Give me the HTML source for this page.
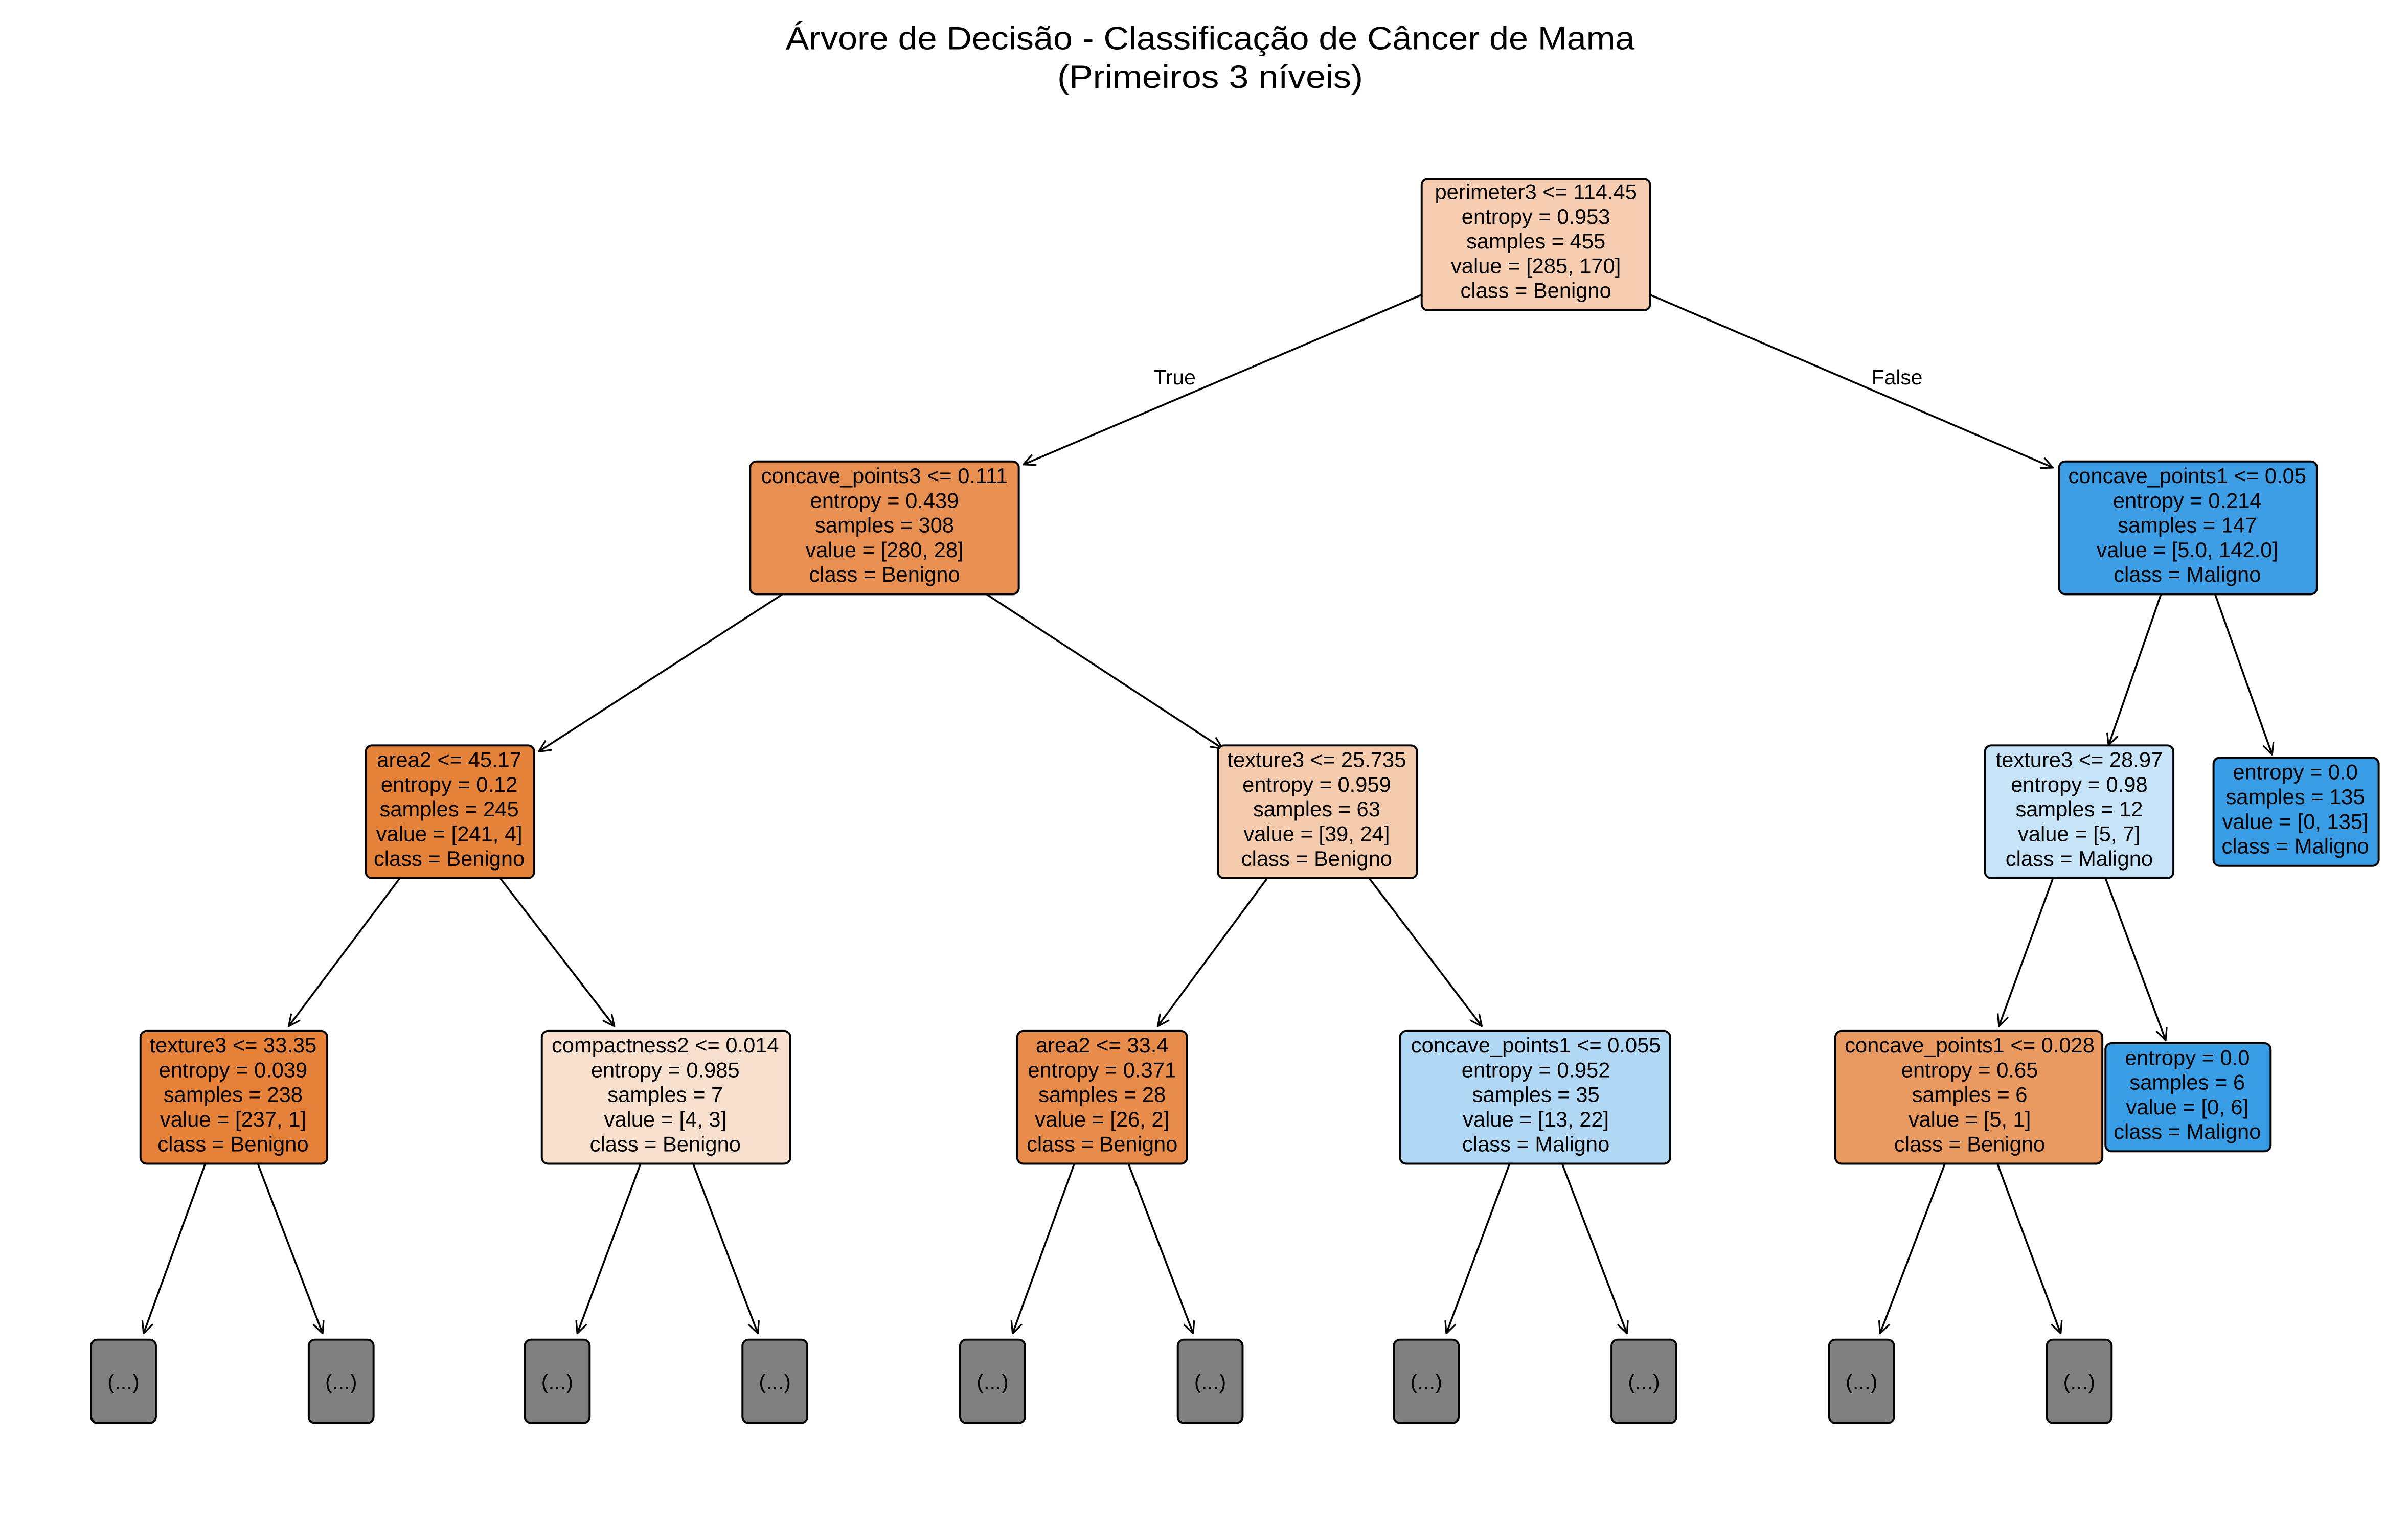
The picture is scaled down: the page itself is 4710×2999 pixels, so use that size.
<!DOCTYPE html>
<html><head><meta charset="utf-8"><style>html,body{margin:0;padding:0;background:#fff}svg{display:block}</style></head>
<body>
<svg xmlns="http://www.w3.org/2000/svg" width="4710" height="2999" viewBox="0 0 1560 993.3" font-family="Liberation Sans, DejaVu Sans, sans-serif">
<defs>
<marker id="a" viewBox="0 0 10 10" refX="9.5" refY="5" markerWidth="9" markerHeight="9" markerUnits="userSpaceOnUse" orient="auto">
<path d="M1,1 L9.5,5 L1,9" fill="none" stroke="#000" stroke-width="1.2"/>
</marker>
</defs>
<rect width="1560" height="993.3" fill="#fff"/>
<text x="784" y="32" font-size="21" text-anchor="middle" textLength="550" lengthAdjust="spacingAndGlyphs">Árvore de Decisão - Classificação de Câncer de Mama</text>
<text x="784" y="57" font-size="21" text-anchor="middle" textLength="198" lengthAdjust="spacingAndGlyphs">(Primeiros 3 níveis)</text>

<g stroke="#000" stroke-width="1.2" fill="none" marker-end="url(#a)">
<line x1="921" y1="191" x2="663" y2="301"/>
<line x1="1069" y1="191" x2="1330" y2="303"/>
<line x1="507" y1="385" x2="349" y2="487"/>
<line x1="639" y1="385" x2="792" y2="485"/>
<line x1="1400" y1="385" x2="1366" y2="483"/>
<line x1="1435" y1="385" x2="1472" y2="489"/>
<line x1="259" y1="569" x2="187" y2="665"/>
<line x1="324" y1="569" x2="398" y2="665"/>
<line x1="821" y1="569" x2="750" y2="665"/>
<line x1="887" y1="569" x2="960" y2="665"/>
<line x1="1330" y1="569" x2="1295" y2="665"/>
<line x1="1364" y1="569" x2="1403" y2="674"/>
<line x1="133" y1="754" x2="93" y2="864"/>
<line x1="167" y1="754" x2="209" y2="864"/>
<line x1="415" y1="754" x2="374" y2="864"/>
<line x1="449" y1="754" x2="491" y2="864"/>
<line x1="696" y1="754" x2="656" y2="864"/>
<line x1="731" y1="754" x2="773" y2="864"/>
<line x1="978" y1="754" x2="937" y2="864"/>
<line x1="1012" y1="754" x2="1054" y2="864"/>
<line x1="1260" y1="754" x2="1218" y2="864"/>
<line x1="1294" y1="754" x2="1335" y2="864"/>
</g>
<text x="761" y="249" font-size="13.5" text-anchor="middle">True</text>
<text x="1229" y="249" font-size="13.5" text-anchor="middle">False</text>

<g stroke="#000" stroke-width="1.3">
<rect x="921" y="116" width="148" height="85" rx="4" fill="#f6cdb0"/>
<rect x="486" y="299" width="174" height="86" rx="4" fill="#e89051"/>
<rect x="1334" y="299" width="167" height="86" rx="4" fill="#3d9ee5"/>
<rect x="237" y="483" width="109" height="86" rx="4" fill="#e5823a"/>
<rect x="789" y="483" width="129" height="86" rx="4" fill="#f4cbad"/>
<rect x="1286" y="483" width="122" height="86" rx="4" fill="#c6e3f7"/>
<rect x="1434" y="491" width="107" height="70" rx="4" fill="#399de5"/>
<rect x="91" y="668" width="121" height="86" rx="4" fill="#e58139"/>
<rect x="351" y="668" width="161" height="86" rx="4" fill="#f8e0ce"/>
<rect x="659" y="668" width="110" height="86" rx="4" fill="#e78c4a"/>
<rect x="907" y="668" width="175" height="86" rx="4" fill="#b0d8f5"/>
<rect x="1189" y="668" width="173" height="86" rx="4" fill="#e99a61"/>
<rect x="1364" y="676" width="107" height="70" rx="4" fill="#399de5"/>
<g fill="#808080">
<rect x="59" y="868" width="42" height="54" rx="4"/>
<rect x="200" y="868" width="42" height="54" rx="4"/>
<rect x="340" y="868" width="42" height="54" rx="4"/>
<rect x="481" y="868" width="42" height="54" rx="4"/>
<rect x="622" y="868" width="42" height="54" rx="4"/>
<rect x="763" y="868" width="42" height="54" rx="4"/>
<rect x="903" y="868" width="42" height="54" rx="4"/>
<rect x="1044" y="868" width="42" height="54" rx="4"/>
<rect x="1185" y="868" width="42" height="54" rx="4"/>
<rect x="1326" y="868" width="42" height="54" rx="4"/>
</g>
</g>

<g font-size="13.8" text-anchor="middle" fill="#000">
<text x="995" y="129">perimeter3 &lt;= 114.45<tspan x="995" dy="16">entropy = 0.953</tspan><tspan x="995" dy="16">samples = 455</tspan><tspan x="995" dy="16">value = [285, 170]</tspan><tspan x="995" dy="16">class = Benigno</tspan></text>
<text x="573" y="313">concave_points3 &lt;= 0.111<tspan x="573" dy="16">entropy = 0.439</tspan><tspan x="573" dy="16">samples = 308</tspan><tspan x="573" dy="16">value = [280, 28]</tspan><tspan x="573" dy="16">class = Benigno</tspan></text>
<text x="1417" y="313">concave_points1 &lt;= 0.05<tspan x="1417" dy="16">entropy = 0.214</tspan><tspan x="1417" dy="16">samples = 147</tspan><tspan x="1417" dy="16">value = [5.0, 142.0]</tspan><tspan x="1417" dy="16">class = Maligno</tspan></text>
<text x="291" y="497">area2 &lt;= 45.17<tspan x="291" dy="16">entropy = 0.12</tspan><tspan x="291" dy="16">samples = 245</tspan><tspan x="291" dy="16">value = [241, 4]</tspan><tspan x="291" dy="16">class = Benigno</tspan></text>
<text x="853" y="497">texture3 &lt;= 25.735<tspan x="853" dy="16">entropy = 0.959</tspan><tspan x="853" dy="16">samples = 63</tspan><tspan x="853" dy="16">value = [39, 24]</tspan><tspan x="853" dy="16">class = Benigno</tspan></text>
<text x="1347" y="497">texture3 &lt;= 28.97<tspan x="1347" dy="16">entropy = 0.98</tspan><tspan x="1347" dy="16">samples = 12</tspan><tspan x="1347" dy="16">value = [5, 7]</tspan><tspan x="1347" dy="16">class = Maligno</tspan></text>
<text x="1487" y="505">entropy = 0.0<tspan x="1487" dy="16">samples = 135</tspan><tspan x="1487" dy="16">value = [0, 135]</tspan><tspan x="1487" dy="16">class = Maligno</tspan></text>
<text x="151" y="682">texture3 &lt;= 33.35<tspan x="151" dy="16">entropy = 0.039</tspan><tspan x="151" dy="16">samples = 238</tspan><tspan x="151" dy="16">value = [237, 1]</tspan><tspan x="151" dy="16">class = Benigno</tspan></text>
<text x="431" y="682">compactness2 &lt;= 0.014<tspan x="431" dy="16">entropy = 0.985</tspan><tspan x="431" dy="16">samples = 7</tspan><tspan x="431" dy="16">value = [4, 3]</tspan><tspan x="431" dy="16">class = Benigno</tspan></text>
<text x="714" y="682">area2 &lt;= 33.4<tspan x="714" dy="16">entropy = 0.371</tspan><tspan x="714" dy="16">samples = 28</tspan><tspan x="714" dy="16">value = [26, 2]</tspan><tspan x="714" dy="16">class = Benigno</tspan></text>
<text x="995" y="682">concave_points1 &lt;= 0.055<tspan x="995" dy="16">entropy = 0.952</tspan><tspan x="995" dy="16">samples = 35</tspan><tspan x="995" dy="16">value = [13, 22]</tspan><tspan x="995" dy="16">class = Maligno</tspan></text>
<text x="1276" y="682">concave_points1 &lt;= 0.028<tspan x="1276" dy="16">entropy = 0.65</tspan><tspan x="1276" dy="16">samples = 6</tspan><tspan x="1276" dy="16">value = [5, 1]</tspan><tspan x="1276" dy="16">class = Benigno</tspan></text>
<text x="1417" y="690">entropy = 0.0<tspan x="1417" dy="16">samples = 6</tspan><tspan x="1417" dy="16">value = [0, 6]</tspan><tspan x="1417" dy="16">class = Maligno</tspan></text>
<text x="80" y="900">(...)</text>
<text x="221" y="900">(...)</text>
<text x="361" y="900">(...)</text>
<text x="502" y="900">(...)</text>
<text x="643" y="900">(...)</text>
<text x="784" y="900">(...)</text>
<text x="924" y="900">(...)</text>
<text x="1065" y="900">(...)</text>
<text x="1206" y="900">(...)</text>
<text x="1347" y="900">(...)</text>
</g>
</svg>
</body></html>
